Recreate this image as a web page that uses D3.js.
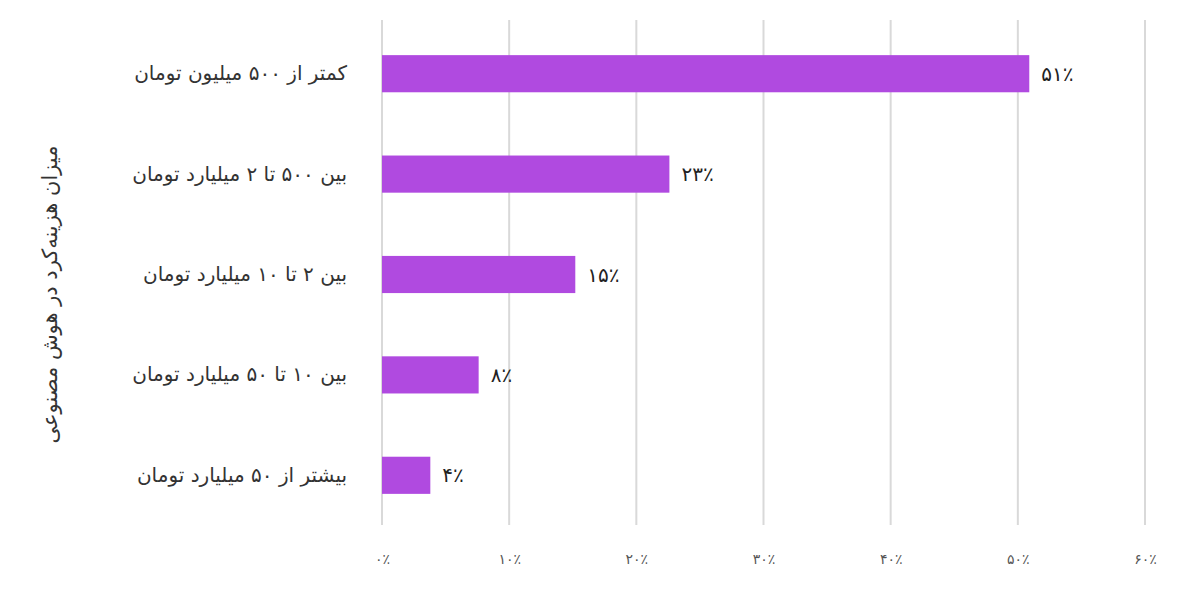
<!DOCTYPE html>
<html>
<head>
    <meta charset="utf-8">
    <title>Bar Chart</title>
    <style>
        body { margin: 0; background: #fff; }
        text { font-family: "DejaVu Sans", sans-serif; }
    </style>
</head>
<body>
    <script src="https://cdnjs.cloudflare.com/ajax/libs/d3/7.9.0/d3.min.js"></script>
    <script>

        const categories = [
            "کمتر از ۵۰۰ میلیون تومان",
            "بین ۵۰۰ تا ۲ میلیارد تومان",
            "بین ۲ تا ۱۰ میلیارد تومان",
            "بین ۱۰ تا ۵۰ میلیارد تومان",
            "بیشتر از ۵۰ میلیارد تومان"
        ];
        const values = [50.9, 22.6, 15.2, 7.6, 3.8];
        const valueLabels = ["۵۱٪", "۲۳٪", "۱۵٪", "۸٪", "۴٪"];
        const ticks = [0, 10, 20, 30, 40, 50, 60];
        const axisTitle = "میزان هزینه‌کرد در هوش مصنوعی";

        const width = 1182;
        const height = 591;
        const margin = {top: 20, right: 37, bottom: 66, left: 382};

        const toFa = s => String(s).replace(/\d/g, d => "۰۱۲۳۴۵۶۷۸۹"[d]);

        const svg = d3.select("body")
            .append("svg")
            .attr("width", width)
            .attr("height", height);

        const x = d3.scaleLinear()
            .domain([0, 60])
            .range([margin.left, width - margin.right]);

        const y = d3.scaleBand()
            .domain(categories)
            .range([margin.top + 2, height - margin.bottom + 2])
            .paddingInner(0.63)
            .paddingOuter(0.33);

        // grid lines
        svg.append("g")
            .selectAll("line")
            .data(ticks)
            .enter()
            .append("line")
            .attr("x1", d => x(d))
            .attr("x2", d => x(d))
            .attr("y1", margin.top)
            .attr("y2", height - margin.bottom)
            .attr("stroke", "#d9d9d9")
            .attr("stroke-width", 2);

        // bottom axis labels
        const xAxis = svg.append("g")
            .attr("transform", `translate(0,${height - margin.bottom})`)
            .call(d3.axisBottom(x).tickValues(ticks).tickSize(0).tickPadding(29)
                .tickFormat(d => toFa(d) + "٪"));
        xAxis.select(".domain").remove();
        xAxis.selectAll("text")
            .attr("fill", "#555")
            .style("font-size", "14px");

        // bars
        svg.append("g")
            .selectAll("rect")
            .data(values)
            .enter()
            .append("rect")
            .attr("x", x(0))
            .attr("y", (d, i) => y(categories[i]))
            .attr("width", d => x(d) - x(0))
            .attr("height", y.bandwidth())
            .attr("fill", "#b04ae0");

        // value labels
        svg.append("g")
            .selectAll("text")
            .data(values)
            .enter()
            .append("text")
            .attr("x", d => x(d) + 12)
            .attr("y", (d, i) => y(categories[i]) + y.bandwidth() / 2)
            .attr("dy", "0.35em")
            .attr("fill", "#222")
            .style("font-size", "20px")
            .text((d, i) => valueLabels[i]);

        // category labels
        const yAxis = svg.append("g")
            .attr("transform", `translate(${margin.left},0)`)
            .call(d3.axisLeft(y).tickSize(0).tickPadding(35));
        yAxis.select(".domain").remove();
        yAxis.selectAll("text")
            .attr("fill", "#333")
            .style("font-size", "20px");

        // axis title
        svg.append("text")
            .attr("transform", `translate(50,${(margin.top + height - margin.bottom) / 2 + 22}) rotate(-90)`)
            .attr("text-anchor", "middle")
            .attr("dy", "0.35em")
            .attr("fill", "#333")
            .style("font-size", "21px")
            .text(axisTitle);

    </script>
</body>
</html>
